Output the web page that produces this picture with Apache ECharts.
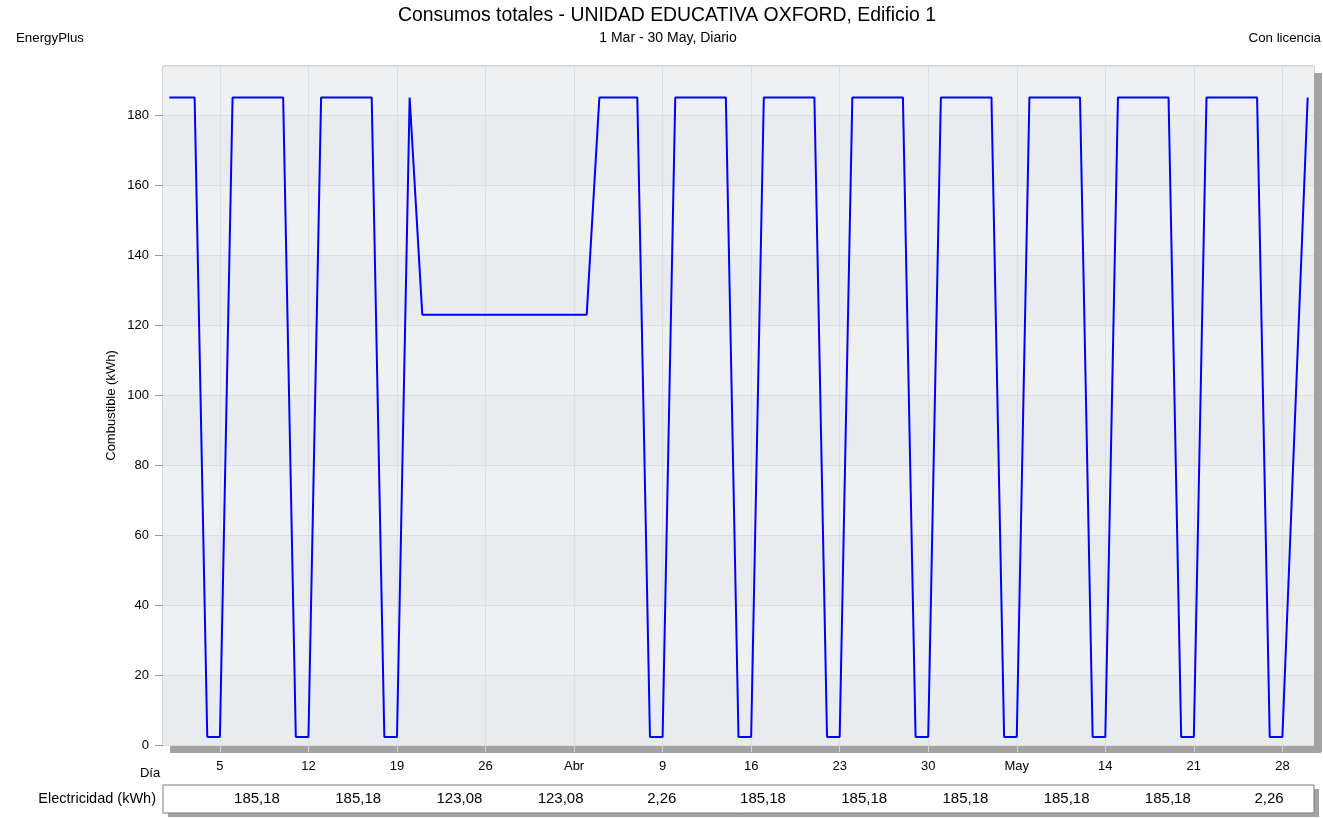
<!DOCTYPE html>
<html>
<head>
<meta charset="utf-8">
<script src="https://cdn.jsdelivr.net/npm/echarts@6/dist/echarts.min.js"></script>
<style>
html,body{margin:0;padding:0;background:#fff;}
#chart{width:1323px;height:818px;}
</style>
</head>
<body>
<div id="chart"></div>
<script>
// ---------- DATA ----------
const startDate = '2023-03-01';
const dayCount = 91;
const H = 185.18, L = 2.26, M = 123.08;
const consumo = [
  H, H, H, L, L, H, H, H, H, H, L, L, H, H, H, H, H, L, L, H,
  M, M, M, M, M, M, M, M, M, M, M, M, M, M,
  H, H, H, H, L, L,
  H, H, H, H, H, L, L,
  H, H, H, H, H, L, L,
  H, H, H, H, H, L, L,
  H, H, H, H, H, L, L,
  H, H, H, H, H, L, L,
  H, H, H, H, H, L, L,
  H, H, H, H, H, L, L,
  93.7, H
];
const tickIndices = [4, 11, 18, 25, 32, 39, 46, 53, 60, 67, 74, 81, 88];
const tickLabels = ['5', '12', '19', '26', 'Abr', '9', '16', '23', '30', 'May', '14', '21', '28'];
const tableValues = [185.18, 185.18, 123.08, 123.08, 2.26, 185.18, 185.18, 185.18, 185.18, 185.18, 2.26];
const titleText = 'Consumos totales - UNIDAD EDUCATIVA OXFORD, Edificio 1';
const subtitleText = '1 Mar - 30 May, Diario';
const yAxisName = 'Combustible (kWh)';
const tableRowName = 'Electricidad (kWh)';

// ---------- BUILD ----------
const categories = [];
{
  const d0 = new Date(startDate + 'T00:00:00Z');
  for (let i = 0; i < dayCount; i++) {
    const d = new Date(d0.getTime() + i * 86400000);
    categories.push(d.toISOString().slice(0, 10));
  }
}
const tickMap = {};
tickIndices.forEach((ix, k) => { tickMap[ix] = tickLabels[k]; });
const isTick = (index) => tickMap[index] !== undefined;

const FONT = '"Liberation Sans", Arial, sans-serif';
const chart = echarts.init(document.getElementById('chart'), null, {renderer: 'canvas'});

const grid = {left: 163, right: 9, top: 66, bottom: 73};
const plotRight = 1323 - grid.right;
const plotBottom = 818 - grid.bottom;

const tableLeft = 163, tableRight = 1314, tableTop = 785, tableBottom = 813;
const tableFirstX = 257, tableStep = 101.2;

const graphics = [
  // plot drop shadow
  {type: 'rect', shape: {x: plotRight, y: grid.top + 7, width: 8, height: plotBottom - grid.top}, style: {fill: '#a3a3a3'}, silent: true},
  {type: 'rect', shape: {x: grid.left + 7, y: plotBottom + 1, width: plotRight - grid.left, height: 7}, style: {fill: '#a3a3a3'}, silent: true},
  // texts
  {type: 'text', x: 667, y: 16, style: {text: titleText, font: '19.4px ' + FONT, fill: '#000', align: 'center', verticalAlign: 'middle'}},
  {type: 'text', x: 668, y: 38, style: {text: subtitleText, font: '14px ' + FONT, fill: '#000', align: 'center', verticalAlign: 'middle'}},
  {type: 'text', x: 16, y: 38, style: {text: 'EnergyPlus', font: '13.3px ' + FONT, fill: '#000', align: 'left', verticalAlign: 'middle'}},
  {type: 'text', x: 1321, y: 38, style: {text: 'Con licencia', font: '13.3px ' + FONT, fill: '#000', align: 'right', verticalAlign: 'middle'}},
  {type: 'text', x: 150, y: 773, style: {text: 'Día', font: '13px ' + FONT, fill: '#000', align: 'center', verticalAlign: 'middle'}},
  // table
  {type: 'rect', shape: {x: tableLeft + 5, y: tableTop + 4, width: tableRight - tableLeft, height: tableBottom - tableTop}, style: {fill: '#a3a3a3'}, silent: true},
  {type: 'rect', shape: {x: tableLeft, y: tableTop, width: tableRight - tableLeft, height: tableBottom - tableTop}, style: {fill: '#fff', stroke: '#7a7a7a', lineWidth: 1}, silent: true},
  {type: 'text', x: 156, y: 799, style: {text: tableRowName, font: '14.5px ' + FONT, fill: '#000', align: 'right', verticalAlign: 'middle'}}
];
tableValues.forEach((v, k) => {
  graphics.push({type: 'text', x: tableFirstX + k * tableStep, y: 799,
    style: {text: v.toFixed(2).replace('.', ','), font: '15px ' + FONT, fill: '#000', align: 'center', verticalAlign: 'middle'}});
});

const option = {
  animation: false,
  backgroundColor: '#ffffff',
  grid: Object.assign({show: true, backgroundColor: '#eceef0', borderColor: '#a8a8a8', borderWidth: 1}, grid),
  xAxis: {
    type: 'category',
    data: categories,
    boundaryGap: true,
    z: 10,
    axisLine: {show: false},
    axisTick: {show: true, alignWithLabel: true, interval: (i) => isTick(i), length: 7, lineStyle: {color: '#d2d2d2'}},
    axisLabel: {show: true, interval: (i) => isTick(i), formatter: (v, i) => tickMap[i] || '', color: '#000', fontFamily: FONT, fontSize: 13, margin: 15},
    splitLine: {show: false}
  },
  yAxis: {
    type: 'value',
    min: 0,
    max: 194.2,
    interval: 20,
    name: yAxisName,
    nameLocation: 'middle',
    nameGap: 45,
    nameMoveOverlap: false,
    nameTextStyle: {color: '#000', fontFamily: FONT, fontSize: 13},
    axisLine: {show: false},
    axisTick: {show: true, length: 8, lineStyle: {color: '#9a9a9a'}},
    axisLabel: {color: '#000', fontFamily: FONT, fontSize: 13, margin: 14, showMaxLabel: false},
    splitLine: {show: true, lineStyle: {color: '#dcdfe2', width: 1}},
    splitArea: {show: true, areaStyle: {color: ['#e9ecee', '#eef0f1']}}
  },
  series: [{
    type: 'line',
    data: consumo,
    symbol: 'none',
    lineStyle: {color: '#0000ff', width: 2},
    itemStyle: {color: '#0000ff'},
    z: 5,
    markLine: {
      silent: true,
      symbol: ['none', 'none'],
      label: {show: false},
      lineStyle: {color: '#dde0e3', type: 'solid', width: 1},
      z: 1,
      data: tickIndices.map(ix => ({xAxis: ix}))
    }
  }],
  graphic: {elements: graphics}
};
chart.setOption(option);
</script>
</body>
</html>
